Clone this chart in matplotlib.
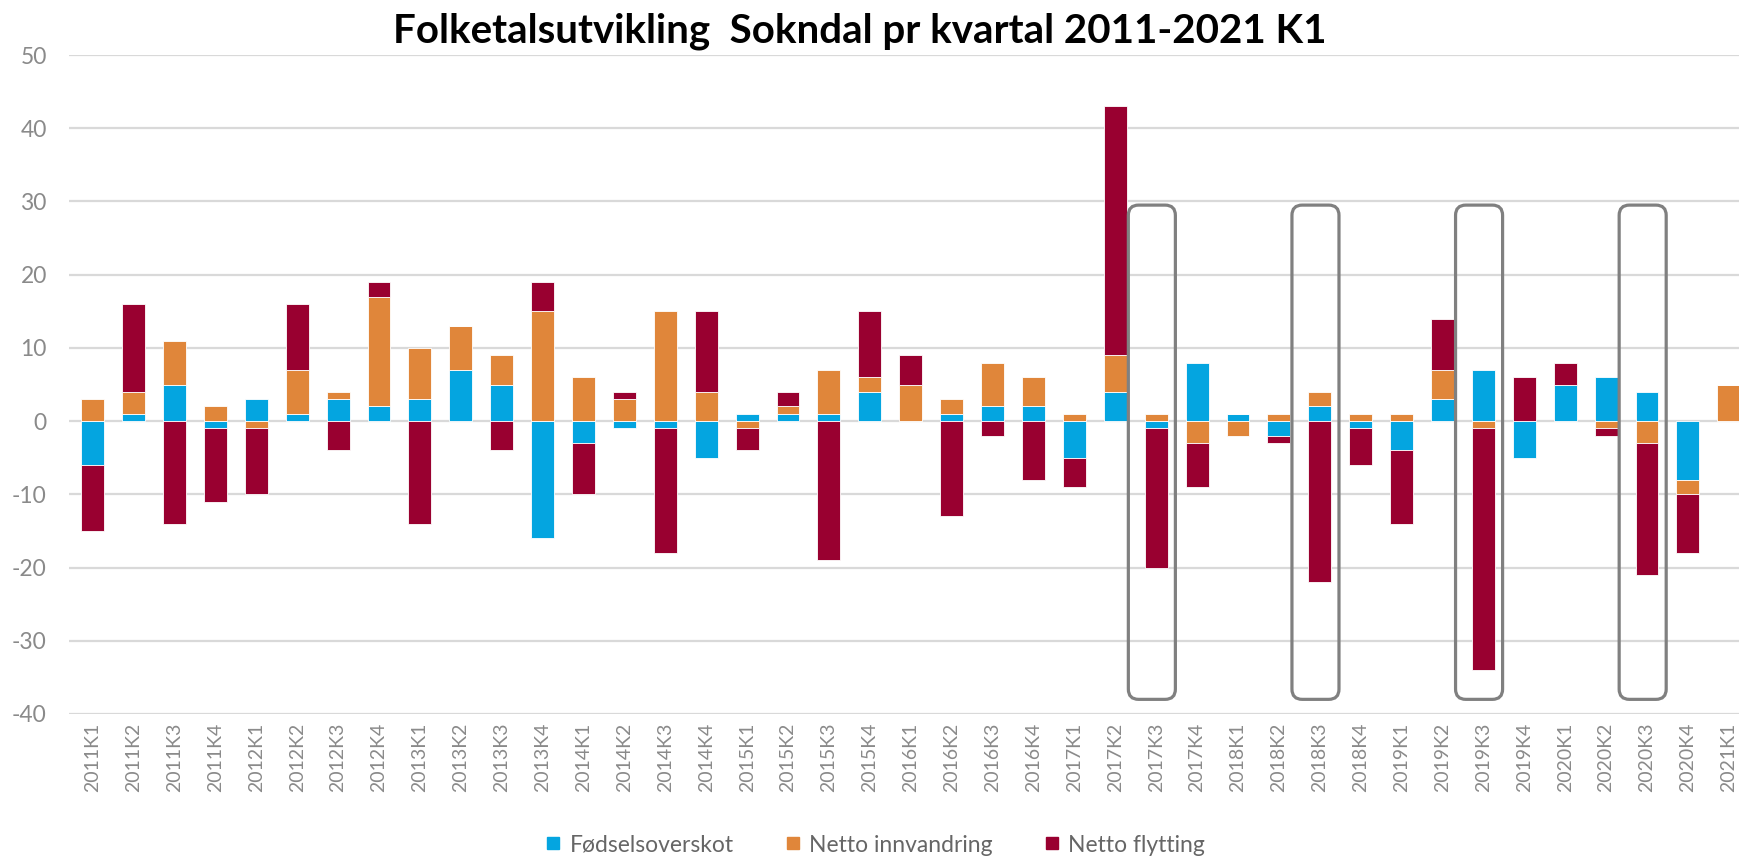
import numpy as np
import matplotlib.pyplot as plt
from matplotlib.patches import FancyBboxPatch
from matplotlib.lines import Line2D

plt.rcParams['font.family'] = ['Lato', 'DejaVu Sans']
plt.rcParams['axes.unicode_minus'] = False

quarters = [f'{y}K{q}' for y in range(2011, 2021) for q in range(1, 5)] + ['2021K1']

fodsel = [-6, 1, 5, -1, 3, 1, 3, 2, 3, 7, 5, -16, -3, -1, -1, -5, 1, 1, 1, 4,
          0, 1, 2, 2, -5, 4, -1, 8, 1, -2, 2, -1, -4, 3, 7, -5, 5, 6, 4, -8, 0]
innvandring = [3, 3, 6, 2, -1, 6, 1, 15, 7, 6, 4, 15, 6, 3, 15, 4, -1, 1, 6, 2,
               5, 2, 6, 4, 1, 5, 1, -3, -2, 1, 2, 1, 1, 4, -1, 0, 0, -1, -3, -2, 5]
flytting = [-9, 12, -14, -10, -9, 9, -4, 2, -14, 0, -4, 4, -7, 1, -17, 11, -3, 2, -19, 9,
            4, -13, -2, -8, -4, 34, -19, -6, 0, -1, -22, -5, -10, 7, -33, 6, 3, -1, -18, -8, 0]

series_names = ['Fødselsoverskot', 'Netto innvandring', 'Netto flytting']
colors = ['#04A5E0', '#E0863A', '#990030']
highlight = ['2017K3', '2018K3', '2019K3', '2020K3']

W, H = 1739, 860
fig = plt.figure(figsize=(W / 100, H / 100), dpi=100)
ax = fig.add_axes([69 / W, 1 - 714 / H, 1 - 69 / W, (714 - 55) / H])

x = np.arange(len(quarters))
pos_base = np.zeros(len(x))
neg_base = np.zeros(len(x))
for vals, col in zip([fodsel, innvandring, flytting], colors):
    v = np.array(vals, dtype=float)
    bottom = np.where(v >= 0, pos_base, neg_base)
    ax.bar(x, v, bottom=bottom, width=0.56, color=col, edgecolor='white',
           linewidth=0.6, zorder=3)
    pos_base += np.where(v > 0, v, 0)
    neg_base += np.where(v < 0, v, 0)

ax.set_xlim(-0.58, 40.25)
ax.set_ylim(-40, 50)
ax.set_yticks(np.arange(-40, 51, 10))
ax.grid(axis='y', color='#D9D9D9', linewidth=1.6, zorder=0)
ax.set_axisbelow(True)
for s in ax.spines.values():
    s.set_visible(False)
ax.tick_params(axis='y', length=0, pad=16, labelsize=16.5, labelcolor='#8a8a8a')
ax.tick_params(axis='x', length=0, pad=6, labelsize=14, labelcolor='#8a8a8a')
ax.set_xticks(x)
ax.set_xticklabels(quarters, rotation=90, va='top', ha='center')

# rounded highlight boxes, aspect-corrected so the corners look round
p0 = ax.transData.transform((0, 0))
p1 = ax.transData.transform((1, 1))
aspect = (p1[0] - p0[0]) / (p1[1] - p0[1])
for q in highlight:
    i = quarters.index(q)
    box = FancyBboxPatch((i - 0.68, -38), 1.15, 67.5,
                         boxstyle='round,pad=0,rounding_size=0.25',
                         mutation_aspect=aspect, fill=False,
                         edgecolor='#808080', linewidth=2.3, zorder=4)
    ax.add_patch(box)

fig.text(0.4945, 1 - 42 / H, 'Folketalsutvikling  Sokndal pr kvartal 2011-2021 K1',
         ha='center', va='baseline', fontsize=29, fontweight='bold', color='black')

handles = [Line2D([], [], marker='s', linestyle='none', markersize=9,
                  markerfacecolor=c, markeredgecolor=c) for c in colors]
leg = fig.legend(handles, series_names, loc='center', bbox_to_anchor=(0.503, 1 - 845 / H),
                 ncol=3, frameon=False, fontsize=16.5, handletextpad=0.3,
                 columnspacing=2.2, handlelength=0.8)
for t in leg.get_texts():
    t.set_color('#666666')

fig.savefig('out.png', dpi=100)
